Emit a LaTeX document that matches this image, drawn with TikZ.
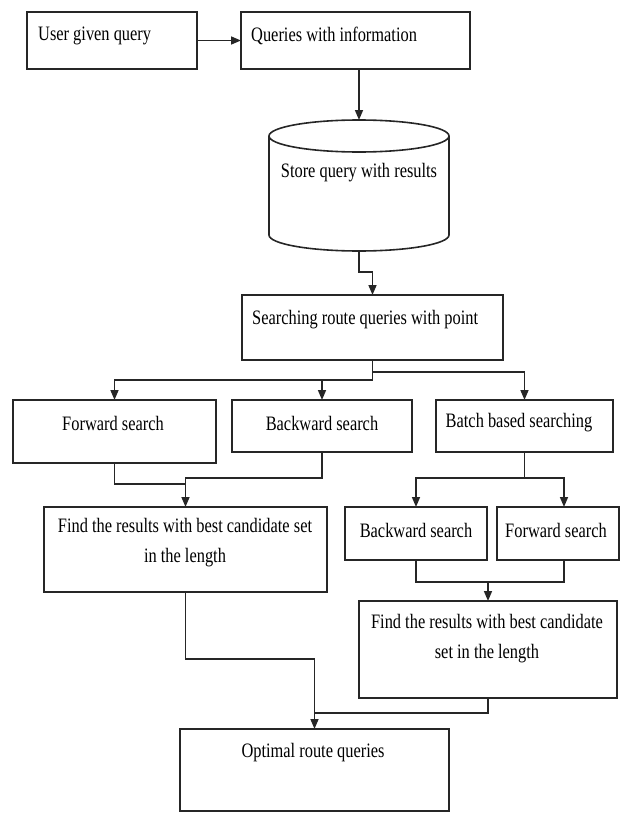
\documentclass[tikz,border=0pt]{standalone}
\usepackage{fontspec}
\setmainfont{Liberation Serif}[FakeStretch=0.8]
\usetikzlibrary{arrows.meta, positioning, calc}

\begin{document}
\begin{tikzpicture}[x=1pt,y=-1pt,
  box/.style={draw=black!85,line width=1.6pt,inner sep=0pt,outer sep=0pt,anchor=north west},
  txt/.style={inner sep=0pt,font=\fontsize{20.5}{30}\selectfont,align=center},
  line/.style={draw=black!85,line width=1.6pt},
  arr/.style={line,-{Triangle[length=10pt,width=8pt]}}]
\useasboundingbox (0,0) rectangle (620,816);
% Input boxes and store
\node[box,minimum width=170pt,minimum height=57pt](user) at (27,12) {};
\node[box,minimum width=229pt,minimum height=57pt](info) at (241,12) {};
\node[inner sep=0pt,outer sep=0pt,minimum width=180pt,minimum height=131pt](store) at (359,185.5) {};
\draw[line] ($(store.north)+(0,16)$) ellipse [x radius=90,y radius=16];
\draw[line] ($(store.north west)+(0,16)$) -- ($(store.south west)+(0,-16)$)
  arc[start angle=180,end angle=0,x radius=90,y radius=16] -- ($(store.north east)+(0,16)$);
\node[box,minimum width=261pt,minimum height=65pt](search) at (242,295) {};
% Search branches
\node[box,minimum width=203pt,minimum height=63pt](fwd) at (13,400) {};
\node[box,minimum width=180pt,minimum height=52pt](bwd) at (232,400) {};
\node[box,minimum width=177pt,minimum height=52pt](batch) at (436,400) {};
\node[box,minimum width=283pt,minimum height=85pt](find1) at (44,507) {};
\node[box,minimum width=142pt,minimum height=53pt](bwd2) at (345,507) {};
\node[box,minimum width=122pt,minimum height=53pt](fwd2) at (497,507) {};
\node[box,minimum width=258pt,minimum height=97pt](find2) at (359,601) {};
\node[box,minimum width=269pt,minimum height=82pt](opt) at (180,729) {};
% Texts
\node[txt,anchor=west](tuser) at (38,36) {User given query};
\node[txt,anchor=west](tinfo) at (251,36) {Queries with information};
\node[txt](tstore) at (359,173) {Store query with results};
\node[txt,anchor=west](tsearch) at (252,320) {Searching route queries with point};
\node[txt](tfwd) at (113,423) {Forward search};
\node[txt](tbwd) at (322,423) {Backward search};
\node[txt](tbatch) at (519,423) {Batch based searching};
\node[txt](tfind1) at (185,543) {Find the results with best candidate set\\in the length};
\node[txt](tbwd2) at (416,530) {Backward search};
\node[txt](tfwd2) at (556,530) {Forward search};
\node[txt](tfind2) at (487,639) {Find the results with best candidate\\set in the length};
\node[txt](topt) at (313,753) {Optimal route queries};
% Connectors
\draw[arr] (user.east) -- (info.west);
\draw[arr] (info.south -| store.north) -- (store.north);
\draw[arr] (store.south) -- ++(0,21) -| (search.north);
\draw[arr] (search.south) -- ++(0,12) -| (batch.north);
\draw[arr] (search.south) -- ++(0,20) coordinate (split) -| (fwd.north);
\draw[arr] (split) -| (bwd.north);
\draw[line] (fwd.south) -- ++(0,21) -| (find1.north);
\draw[arr] (bwd.south) -- ++(0,26) -| (find1.north);
\draw[line] (batch.south) -- ++(0,26) coordinate (split2);
\draw[arr] (split2) -| (bwd2.north);
\draw[arr] (split2) -| ([xshift=6pt]fwd2.north);
\draw[line] (bwd2.south) -- ++(0,22) -| ([xshift=6pt]fwd2.south);
\draw[arr] ([yshift=19pt]find2.north) -- (find2.north);
\draw[line] (find1.south) -- ++(0,67) -| (opt.north);
\draw[arr] (find2.south) -- ++(0,15) -| (opt.north);
\end{tikzpicture}
\end{document}
